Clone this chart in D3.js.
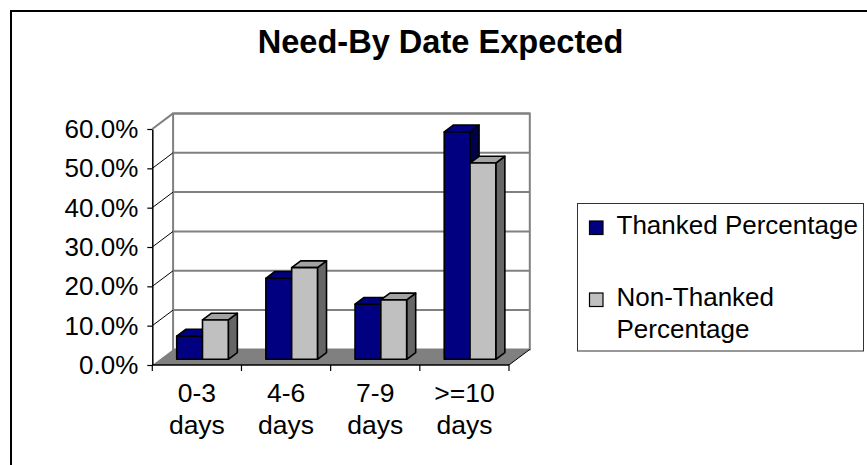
<!DOCTYPE html>
<html>
<head>
<meta charset="utf-8">
<script src="https://cdn.jsdelivr.net/npm/d3@7"></script>
<style>
  html, body { margin: 0; padding: 0; background: #fff; }
  svg { display: block; }
  text { font-family: "Liberation Sans", Arial, sans-serif; fill: #000; }
</style>
</head>
<body>
<svg id="chart" width="867" height="465"></svg>
<script>
// ---- data ----
const categories = ["0-3 days", "4-6 days", "7-9 days", ">=10 days"];
const seriesNames = ["Thanked Percentage", "Non-Thanked Percentage"];
const thanked = [0.059, 0.206, 0.140, 0.578];
const nonThanked = [0.100, 0.233, 0.151, 0.499];
const yTicks = [0, 0.1, 0.2, 0.3, 0.4, 0.5, 0.6];

const svg = d3.select("#chart");

// ---- geometry ----
const left = 152.3, right = 509, floorY = 365, topY = 129;
const depth = { dx: 20.8, dy: -15.6 };
const f0 = 0.365, f1 = 0.80;   // bar front / back depth fractions

const x = d3.scaleBand().domain(categories).range([left, right]);
const y = d3.scaleLinear().domain([0, 0.6]).range([floorY, topY]);
const sx = d3.scaleBand().domain(seriesNames).range([16.8, 16.8 + 51.6]);

const colors = {
  "Thanked Percentage": { front: "#000080", top: "#000080", side: "#00004a" },
  "Non-Thanked Percentage": { front: "#c0c0c0", top: "#a3a3a3", side: "#666666" }
};

// outer frame
svg.append("rect").attr("x", 11).attr("y", 11).attr("width", 900).attr("height", 500)
  .attr("fill", "#fff").attr("stroke", "#000").attr("stroke-width", 2);

// title
svg.append("text").attr("x", 440.5).attr("y", 53).attr("text-anchor", "middle")
  .style("font-size", "32.6px").style("font-weight", "bold").text("Need-By Date Expected");

const P = (px, py, f) => [px + depth.dx * f, py + depth.dy * f];

// back wall
const bw = [P(left, floorY, 1), P(right, floorY, 1), P(right, topY, 1), P(left, topY, 1)];
svg.append("polygon").attr("points", bw.map(p => p.join(",")).join(" "))
  .attr("fill", "#fff").attr("stroke", "#808080").attr("stroke-width", 2);

// back wall gridlines
svg.append("g").selectAll("line").data(yTicks.slice(1)).join("line")
  .attr("x1", d => P(left, y(d), 1)[0]).attr("y1", d => P(left, y(d), 1)[1])
  .attr("x2", d => P(right, y(d), 1)[0]).attr("y2", d => P(right, y(d), 1)[1])
  .attr("stroke", "#808080").attr("stroke-width", 2);

// side wall lines
svg.append("g").selectAll("line").data(yTicks.slice(1)).join("line")
  .attr("x1", left).attr("y1", d => y(d))
  .attr("x2", d => P(left, y(d), 1)[0]).attr("y2", d => P(left, y(d), 1)[1])
  .attr("stroke", d => d === 0.6 ? "#808080" : "#000").attr("stroke-width", d => d === 0.6 ? 2 : 1);

// floor
const fl = [[left, floorY], [right, floorY], P(right, floorY, 1), P(left, floorY, 1)];
svg.append("polygon").attr("points", fl.map(p => p.join(",")).join(" "))
  .attr("fill", "#808080").attr("stroke", "none");
svg.append("line").attr("x1", right).attr("y1", floorY)
  .attr("x2", P(right, floorY, 1)[0]).attr("y2", P(right, floorY, 1)[1])
  .attr("stroke", "#000").attr("stroke-width", 1);

// bars
const barData = [];
categories.forEach((c, i) => {
  barData.push({ cat: c, s: seriesNames[0], v: thanked[i] });
  barData.push({ cat: c, s: seriesNames[1], v: nonThanked[i] });
});

const bars = svg.append("g").selectAll("g").data(barData).join("g");
bars.each(function(d) {
  const g = d3.select(this);
  const xl = x(d.cat) + sx(d.s), xr = xl + sx.bandwidth();
  const yb = y(0), yt = y(d.v);
  const A = P(xl, yb, f0), B = P(xr, yb, f0), C = P(xr, yt, f0), D = P(xl, yt, f0);
  const Cb = P(xr, yt, f1), Db = P(xl, yt, f1), Bb = P(xr, yb, f1);
  const col = colors[d.s];
  const poly = (pts, fill) => g.append("polygon")
    .attr("points", pts.map(p => p.join(",")).join(" "))
    .attr("fill", fill).attr("stroke", "#000").attr("stroke-width", 1.6)
    .attr("stroke-linejoin", "round");
  poly([B, Bb, Cb, C], col.side);
  poly([D, C, Cb, Db], col.top);
  poly([A, B, C, D], col.front);
});

// front floor edge
svg.append("line").attr("x1", left).attr("y1", floorY).attr("x2", right).attr("y2", floorY)
  .attr("stroke", "#000").attr("stroke-width", 1.5);

// y axis
const yAxis = d3.axisLeft(y).tickValues(yTicks).tickFormat(d3.format(".1%"))
  .tickSize(5).tickSizeOuter(0).tickPadding(9);
const ya = svg.append("g").attr("transform", `translate(${left},0)`).call(yAxis);
ya.select(".domain").attr("stroke", "#000").attr("stroke-width", 1.5);
ya.selectAll(".tick line").attr("stroke", "#000").attr("stroke-width", 1.2);
ya.selectAll(".tick text").style("font-size", "26px").attr("font-family", null)
  .attr("dy", "0.33em").attr("fill", "#000");

// x axis ticks at category boundaries
const bounds = categories.map(c => x(c)).concat([x(categories[categories.length - 1]) + x.bandwidth()]);
svg.append("g").selectAll("line").data(bounds).join("line")
  .attr("x1", d => d).attr("x2", d => d).attr("y1", floorY).attr("y2", floorY + 6)
  .attr("stroke", "#000").attr("stroke-width", 1.2);

// x labels (two lines)
const xl = svg.append("g").selectAll("text").data(categories).join("text")
  .attr("text-anchor", "middle").style("font-size", "26.5px");
xl.each(function(c) {
  const parts = c.split(" ");
  const t = d3.select(this);
  parts.forEach((p, k) => {
    t.append("tspan").attr("x", x(c) + x.bandwidth() / 2).attr("y", 402 + k * 32).text(p);
  });
});

// legend
const lg = svg.append("g");
lg.append("rect").attr("x", 577.5).attr("y", 203.5).attr("width", 286).attr("height", 147.5)
  .attr("fill", "#fff").attr("stroke", "#333").attr("stroke-width", 1);
const legendItems = [
  { s: seriesNames[0], lines: ["Thanked Percentage"], y: 234 },
  { s: seriesNames[1], lines: ["Non-Thanked", "Percentage"], y: 306 }
];
legendItems.forEach(it => {
  lg.append("rect").attr("x", 589.5).attr("y", it.y - 13).attr("width", 13.5).attr("height", 13.5)
    .attr("fill", colors[it.s].front).attr("stroke", "#000").attr("stroke-width", 1.2);
  const t = lg.append("text").style("font-size", "26px");
  it.lines.forEach((ln, k) => {
    t.append("tspan").attr("x", 616.5).attr("y", it.y + k * 32).text(ln);
  });
});
</script>
</body>
</html>
